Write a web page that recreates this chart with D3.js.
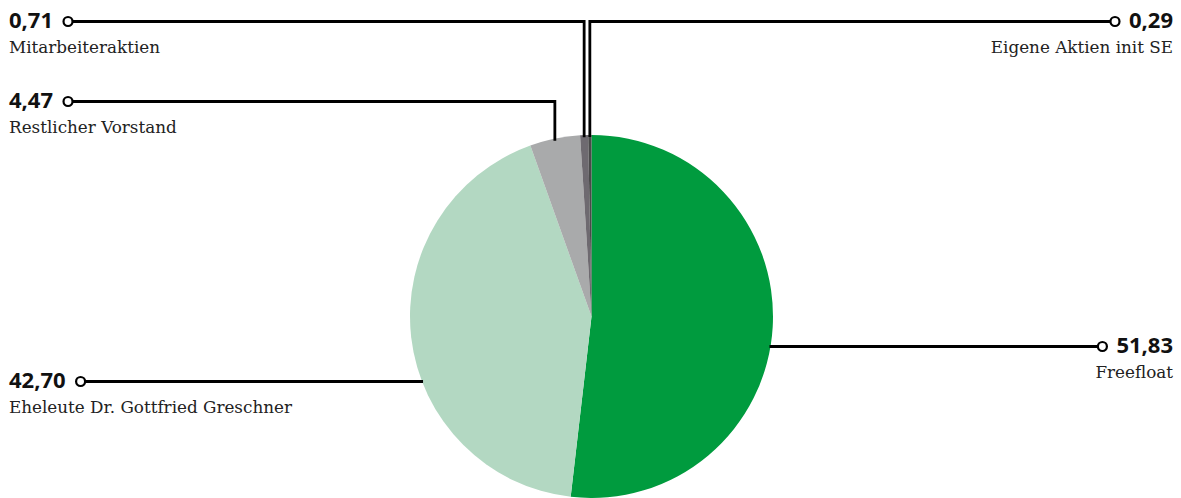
<!DOCTYPE html>
<html>
<head>
<meta charset="utf-8">
<script src="https://cdn.jsdelivr.net/npm/d3@7"></script>
<style>
	body { margin: 0; background: #fff; }
	.value-text { font-family: "Open Sans", sans-serif; font-weight: 700; font-size: 22px; fill: #111; }
	.name-text { font-family: "DejaVu Serif", serif; font-size: 16.8px; fill: #222; }
</style>
</head>
<body>
<div id="chart"></div>
<script>

//Shareholder structure in percent (clockwise from 12 o'clock)
var holders = ["Freefloat", "Eheleute Dr. Gottfried Greschner", "Restlicher Vorstand", "Mitarbeiteraktien", "Eigene Aktien init SE"];
var shares = [51.83, 42.70, 4.47, 0.71, 0.29];
var shareLabels = ["51,83", "42,70", "4,47", "0,71", "0,29"];
var sliceColors = ["#009b3e", "#b3d8c2", "#a9aaab", "#6e6a70", "#4a4a4a"];

///////////////////////////////////////////////////////////////////////////
//////////////////// Set up and initiate svg containers ///////////////////
///////////////////////////////////////////////////////////////////////////

var width = 1181;
var height = 498;
var radius = 181.5;
var center = { x: 591.5, y: 316.5 };

var svg = d3.select("#chart")
	.append("svg")
	.attr("width", width)
	.attr("height", height);

///////////////////////////////////////////////////////////////////////////
//////////////////////////////// The pie //////////////////////////////////
///////////////////////////////////////////////////////////////////////////

var data = holders.map(function(d, i) {
	return { name: d, value: shares[i], label: shareLabels[i], color: sliceColors[i] };
});

var pie = d3.pie()
	.sort(null)
	.value(function(d) { return d.value; });

var arc = d3.arc()
	.innerRadius(0)
	.outerRadius(radius);

var arcs = pie(data);

var pieGroup = svg.append("g")
	.attr("transform", "translate(" + center.x + "," + center.y + ")");

pieGroup.selectAll(".slice")
	.data(arcs)
	.enter().append("path")
	.attr("class", "slice")
	.attr("d", arc)
	.style("fill", function(d) { return d.data.color; });

///////////////////////////////////////////////////////////////////////////
/////////////////////////////// The labels ////////////////////////////////
///////////////////////////////////////////////////////////////////////////

//Where each label sits: side and baseline of the value
var layout = {
	"Freefloat": { side: "right", y: 353, leader: "horizontal" },
	"Eheleute Dr. Gottfried Greschner": { side: "left", y: 388, leader: "horizontal" },
	"Restlicher Vorstand": { side: "left", y: 108, leader: "vertical" },
	"Mitarbeiteraktien": { side: "left", y: 28, leader: "vertical" },
	"Eigene Aktien init SE": { side: "right", y: 28, leader: "vertical" }
};

var leftX = 9;
var rightX = 1173;
var lineOffset = 6.5; //from value baseline to leader line

var labelGroup = svg.append("g");

arcs.forEach(function(d) {
	var lay = layout[d.data.name];
	var g = labelGroup.append("g");
	var lineY = lay.y - lineOffset;

	var value = g.append("text")
		.attr("class", "value-text")
		.attr("x", lay.side === "left" ? leftX : rightX)
		.attr("y", lay.y)
		.style("text-anchor", lay.side === "left" ? "start" : "end")
		.text(d.data.label);

	g.append("text")
		.attr("class", "name-text")
		.attr("x", lay.side === "left" ? leftX : rightX)
		.attr("y", lay.y + 25)
		.style("text-anchor", lay.side === "left" ? "start" : "end")
		.text(d.data.name);

	var tw = value.node().getComputedTextLength();
	var cr = 4.5;
	var cx = lay.side === "left" ? leftX + tw + 15 : rightX - tw - 14;

	//Leader end point on the pie
	var points;
	if (lay.leader === "vertical") {
		var a = (d.startAngle + d.endAngle) / 2;
		var px = center.x + radius * Math.sin(a);
		var py = center.y - Math.sqrt(radius * radius - (px - center.x) * (px - center.x));
		points = [[cx + (lay.side === "left" ? cr : -cr), lineY], [px, lineY], [px, py + 2]];
	} else {
		var dy = lineY - center.y;
		var dx = Math.sqrt(radius * radius - dy * dy);
		var ex = lay.side === "left" ? center.x - dx + 1 : center.x + dx - 1;
		points = [[cx + (lay.side === "left" ? cr : -cr), lineY], [ex, lineY]];
	}

	g.append("path")
		.attr("d", d3.line()(points))
		.style("fill", "none")
		.style("stroke", "#000")
		.style("stroke-width", 2.8);

	g.append("circle")
		.attr("cx", cx)
		.attr("cy", lineY)
		.attr("r", cr)
		.style("fill", "#fff")
		.style("stroke", "#000")
		.style("stroke-width", 2.2);
});

</script>
</body>
</html>
